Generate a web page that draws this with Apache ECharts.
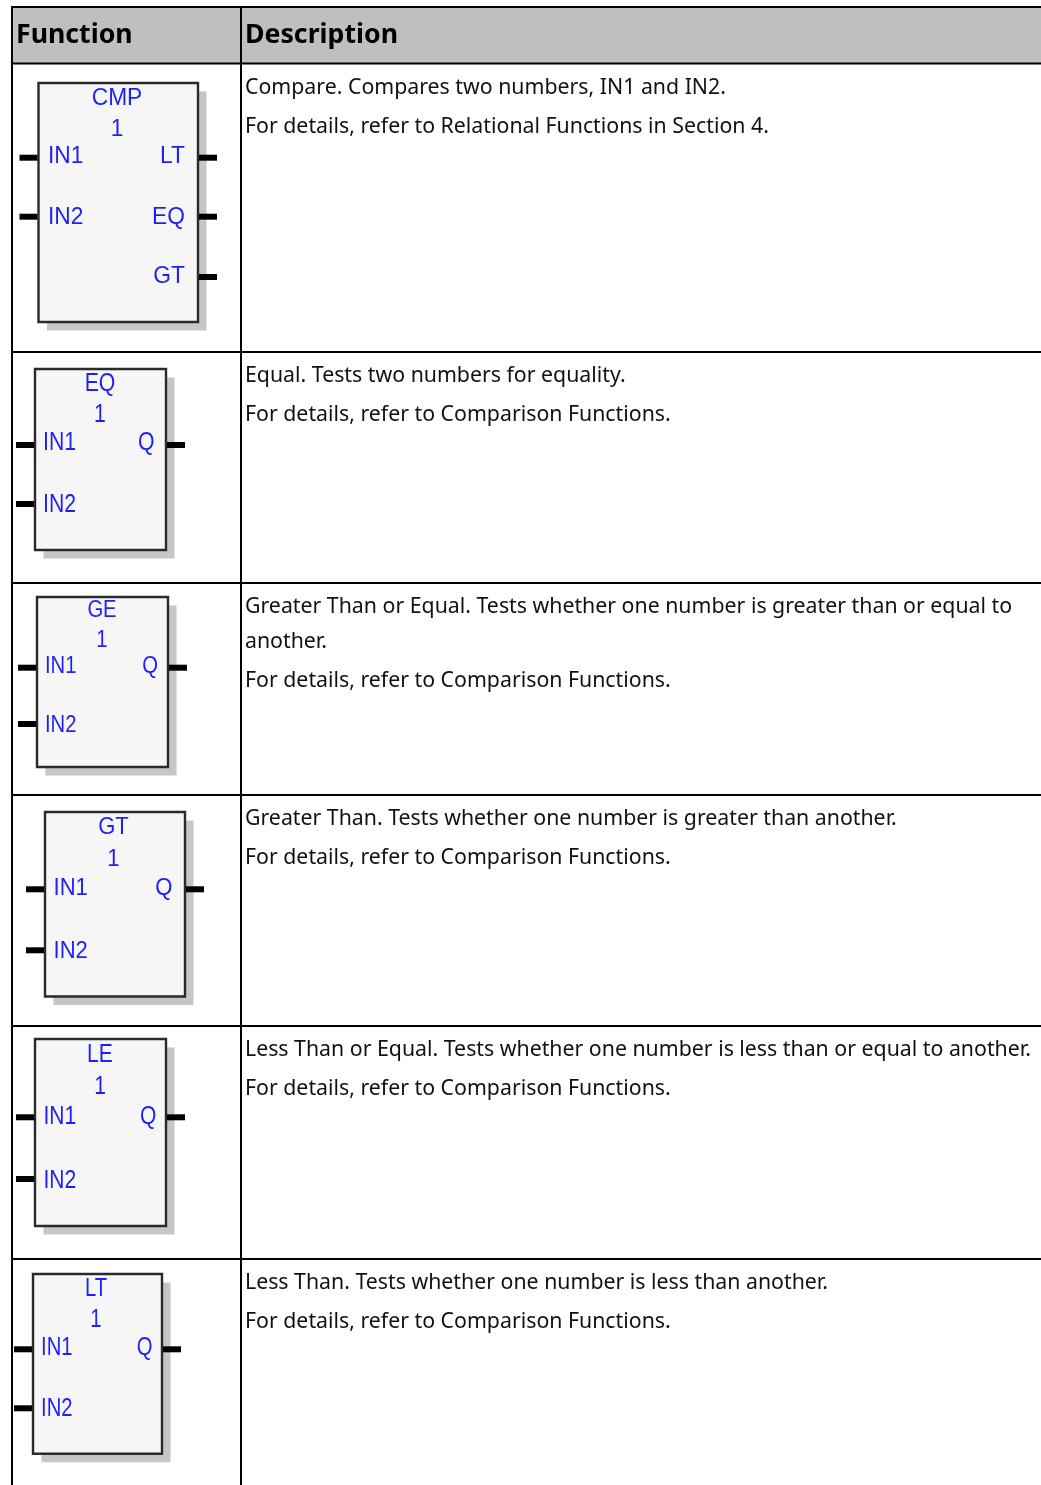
<!DOCTYPE html>
<html>
<head>
<meta charset="utf-8">
<title>Compare functions</title>
<script src="https://cdn.jsdelivr.net/npm/echarts@6/dist/echarts.min.js"></script>
<style>
  html, body { margin: 0; padding: 0; background: #fff; }
  #chart { width: 1041px; height: 1485px; }
</style>
</head>
<body>
<div id="chart"></div>
<script>
// table text
const headers = ['Function', 'Description'];
const functionNames = ['CMP', 'EQ', 'GE', 'GT', 'LE', 'LT'];
const blockNumbers = ['1', '1', '1', '1', '1', '1'];
const inputPins = ['IN1', 'IN2'];
const outputPins = [['LT', 'EQ', 'GT'], ['Q'], ['Q'], ['Q'], ['Q'], ['Q']];
const descriptions = [
  ['Compare. Compares two numbers, IN1 and IN2.', 'For details, refer to Relational Functions in Section 4.'],
  ['Equal. Tests two numbers for equality.', 'For details, refer to Comparison Functions.'],
  ['Greater Than or Equal. Tests whether one number is greater than or equal to', 'another.', 'For details, refer to Comparison Functions.'],
  ['Greater Than. Tests whether one number is greater than another.', 'For details, refer to Comparison Functions.'],
  ['Less Than or Equal. Tests whether one number is less than or equal to another.', 'For details, refer to Comparison Functions.'],
  ['Less Than. Tests whether one number is less than another.', 'For details, refer to Comparison Functions.']
];

// page layout, in pixels
const rowLines = [7, 63.5, 352, 583, 795, 1026, 1259];
const leftLine = 12, colLine = 241, pageW = 1041, pageH = 1485;
const descLineY = [
  [88, 127], [376, 415], [607, 642, 681], [819, 858], [1050, 1089], [1283, 1322]
];
// each block image is scaled a little differently, so font and scaleX differ per row
const blockLayout = [
  { x: 38.5, y: 83, r: 198, b: 322, cx: 117, font: 24.5, sx: 0.93, inX: 48, outX: 185, titleY: 97.5, numY: 128, inY: [155.8, 216.7], outY: [155.8, 216.7, 275.2], inWire: [157.7, 216.7], outWire: [157.7, 216.7, 277] },
  { x: 35, y: 369, r: 166, b: 550, cx: 100, font: 25, sx: 0.85, inX: 43, outX: 154.5, titleY: 383.7, numY: 414.5, inY: [442.8, 504.5], outY: [442.8], inWire: [445, 504], outWire: [445] },
  { x: 37, y: 597, r: 168, b: 767, cx: 102, font: 23, sx: 0.88, inX: 45, outX: 158, titleY: 610.3, numY: 639.7, inY: [666.3, 724.5], outY: [666.3], inWire: [667.7, 724], outWire: [667.7] },
  { x: 45, y: 812, r: 185, b: 996.5, cx: 113.5, font: 24.5, sx: 0.9, inX: 53.5, outX: 172.5, titleY: 826.7, numY: 858.8, inY: [887.5, 950.3], outY: [887.5], inWire: [889.3, 950.3], outWire: [889.3] },
  { x: 35, y: 1039, r: 166, b: 1226, cx: 100, font: 26, sx: 0.81, inX: 43.5, outX: 156.5, titleY: 1054.5, numY: 1086.5, inY: [1115.8, 1179.7], outY: [1115.8], inWire: [1117.3, 1179], outWire: [1117.3] },
  { x: 33, y: 1274, r: 162, b: 1453.7, cx: 96, font: 25, sx: 0.81, inX: 41, outX: 152.5, titleY: 1288.3, numY: 1319, inY: [1347, 1408.8], outY: [1347], inWire: [1349.3, 1408.3], outWire: [1349.3] }
];

const blue = '#1f1ff8';
const textFont = '"Noto Sans", sans-serif';
const blockFont = '"Liberation Sans", Arial, sans-serif';
const blockTextDy = 0.8; // glyph centre sits a bit above the middle of the em box

function line(x1, y1, x2, y2, width, color) {
  return { type: 'line', shape: { x1, y1, x2, y2 }, style: { stroke: color || '#000', lineWidth: width } };
}
function label(text, x, y, opts) {
  return {
    type: 'text', x, y,
    style: Object.assign({ text, fill: '#111', font: '21.3px ' + textFont, verticalAlign: 'middle', align: 'left' }, opts)
  };
}

function buildBlock(i) {
  const b = blockLayout[i];
  const blockText = (text, x, y, align) => {
    const el = label(text, x, y + blockTextDy, { fill: blue, font: b.font + 'px ' + blockFont, align: align || 'left' });
    el.scaleX = b.sx;
    return el;
  };
  const els = [
    { type: 'rect', shape: { x: b.x + 8.5, y: b.y + 8.5, width: b.r - b.x, height: b.b - b.y }, style: { fill: '#c6c5ca' } },
    { type: 'rect', shape: { x: b.x, y: b.y, width: b.r - b.x, height: b.b - b.y }, style: { fill: '#f6f6f6', stroke: '#2a2a2a', lineWidth: 2.4 } },
    blockText(functionNames[i], b.cx, b.titleY, 'center'),
    blockText(blockNumbers[i], b.cx, b.numY, 'center')
  ];
  inputPins.forEach((pin, k) => {
    els.push(line(b.x - 19, b.inWire[k], b.x - 1, b.inWire[k], 6));
    els.push(blockText(pin, b.inX, b.inY[k]));
  });
  outputPins[i].forEach((pin, k) => {
    els.push(line(b.r + 1, b.outWire[k], b.r + 19, b.outWire[k], 6));
    els.push(blockText(pin, b.outX, b.outY[k], 'right'));
  });
  return els;
}

const graphics = [
  { type: 'rect', shape: { x: leftLine, y: rowLines[0], width: pageW - leftLine, height: rowLines[1] - rowLines[0] }, style: { fill: '#bfbfbf' } }
];
rowLines.forEach(y => graphics.push(line(leftLine - 1, y, pageW, y, 2)));
graphics.push(line(leftLine, rowLines[0], leftLine, pageH, 2));
graphics.push(line(colLine, rowLines[0], colLine, pageH, 2));
graphics.push(label(headers[0], 16, 35, { font: 'bold 26.7px ' + textFont, fill: '#000' }));
graphics.push(label(headers[1], 245, 35, { font: 'bold 26.7px ' + textFont, fill: '#000' }));

functionNames.forEach((name, i) => {
  graphics.push(...buildBlock(i));
  descriptions[i].forEach((text, k) => graphics.push(label(text, 245, descLineY[i][k])));
});

const chart = echarts.init(document.getElementById('chart'), null, { renderer: 'canvas' });
chart.setOption({
  backgroundColor: '#fff',
  animation: false,
  graphic: { elements: graphics }
});
</script>
</body>
</html>
